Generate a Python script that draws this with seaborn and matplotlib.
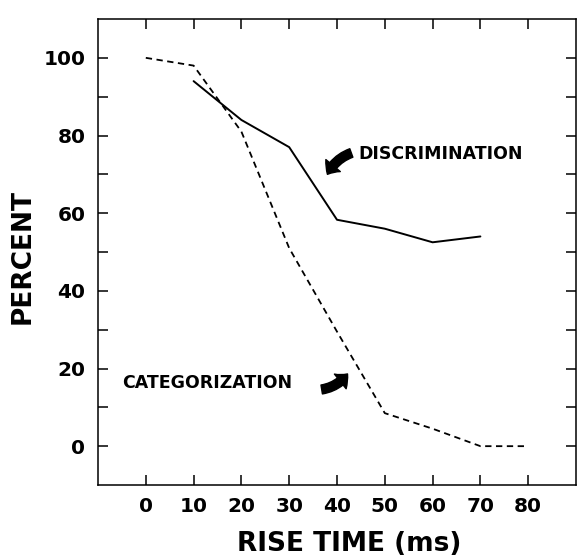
import matplotlib
matplotlib.use("Agg")
import matplotlib.pyplot as plt
import seaborn as sns
import pandas as pd
from matplotlib.ticker import FixedLocator, NullFormatter

# ---- data ----
rise_time_cat = [0, 10, 20, 30, 40, 50, 60, 70, 80]
categorization = [100, 98, 81, 51, 29.5, 8.5, 4.5, 0, 0]
rise_time_dis = [10, 20, 30, 40, 50, 60, 70]
discrimination = [94, 84, 77, 58.3, 56, 52.5, 54]
x_ticks = [0, 10, 20, 30, 40, 50, 60, 70, 80]
y_major = [0, 20, 40, 60, 80, 100]
y_minor = [10, 30, 50, 70, 90]

df_cat = pd.DataFrame({"rise": rise_time_cat, "pct": categorization})
df_dis = pd.DataFrame({"rise": rise_time_dis, "pct": discrimination})

sns.set_style("white")
plt.rcParams["font.family"] = ["DejaVu Sans"]
plt.rcParams["font.weight"] = "bold"
plt.rcParams["text.color"] = "black"
plt.rcParams["axes.labelcolor"] = "black"
plt.rcParams["xtick.color"] = "black"
plt.rcParams["ytick.color"] = "black"

fig = plt.figure(figsize=(5.81, 5.56), dpi=100)
ax = fig.add_axes([98 / 581, 71 / 556, 478 / 581, 466 / 556])

sns.lineplot(data=df_dis, x="rise", y="pct", ax=ax, color="black",
             linewidth=1.4, estimator=None, sort=False)
sns.lineplot(data=df_cat, x="rise", y="pct", ax=ax, color="black",
             linewidth=1.3, linestyle=(0, (3.5, 2.5)), estimator=None, sort=False)

ax.set_xlim(-10, 90)
ax.set_ylim(-10, 110)
ax.xaxis.set_major_locator(FixedLocator(x_ticks))
ax.set_xticklabels([str(v) for v in x_ticks])
ax.yaxis.set_major_locator(FixedLocator(y_major))
ax.set_yticklabels([str(v) for v in y_major])
ax.yaxis.set_minor_locator(FixedLocator(y_minor))
ax.yaxis.set_minor_formatter(NullFormatter())

ax.tick_params(which="both", direction="in", length=7, width=1.1,
               top=True, right=True, bottom=True, left=True,
               labelsize=14.5, pad=9, colors="black")
for lab in ax.get_xticklabels() + ax.get_yticklabels():
    lab.set_fontweight("bold")

for s in ax.spines.values():
    s.set_visible(True)
    s.set_linewidth(1.1)
    s.set_color("black")

ax.set_xlabel("RISE TIME (ms)", fontsize=19, fontweight="bold", color="black")
ax.xaxis.set_label_coords(0.525, -0.098)
ax.set_ylabel("PERCENT", fontsize=19, fontweight="bold", color="black")
ax.yaxis.set_label_coords(-0.13, 0.49)

arrow_style = "simple,head_length=0.75,head_width=1.35,tail_width=0.65"

# annotations
ax.text(44.5, 75.2, "DISCRIMINATION", fontsize=12.5, fontweight="bold",
        ha="left", va="center", color="black")
ax.annotate("", xy=(38, 70), xytext=(43, 75.5),
            arrowprops=dict(arrowstyle=arrow_style,
                            fc="black", ec="black", shrinkA=0, shrinkB=0,
                            mutation_scale=10, connectionstyle="arc3,rad=0.2"))
ax.text(-5, 16.3, "CATEGORIZATION", fontsize=12.5, fontweight="bold",
        ha="left", va="center", color="black")
ax.annotate("", xy=(42.2, 18.6), xytext=(36.8, 14.6),
            arrowprops=dict(arrowstyle=arrow_style,
                            fc="black", ec="black", shrinkA=0, shrinkB=0,
                            mutation_scale=10, connectionstyle="arc3,rad=0.2"))

fig.savefig("out.png", dpi=100)
